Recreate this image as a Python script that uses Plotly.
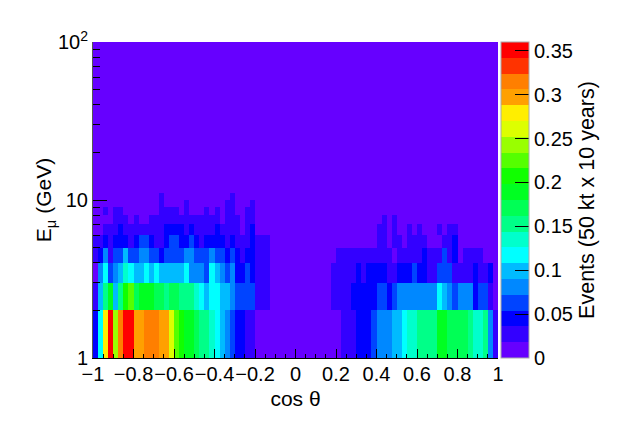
import plotly.graph_objects as go

# Bin edges
cos_theta_edges = [round(-1 + 0.025 * i, 3) for i in range(81)]
energy_edges = list(range(1, 101))

# Events per bin, one list per energy bin
events_1_2 = [.045,.117,.279,.351,.243,.315,.351,.351,.297,.297,.315,.315,.315,.297,.297,.261,.225,.207,.189,.189,
              .171,.153,.153,.135,.117,.099,.081,.063,.045,.045,.027,.027,0,0,0,0,0,0,0,0,
              0,0,0,0,0,0,0,0,0,.027,.027,.027,.045,.045,.045,.063,.081,.081,.081,.099,
              .099,.117,.135,.135,.153,.153,.153,.153,.189,.189,.171,.171,.171,.171,.153,.135,.135,.153,.081,.027]
events_2_3 = [.027,.099,.153,.189,.099,.153,.207,.225,.171,.189,.189,.189,.171,.171,.153,.171,.171,.153,.153,.153,
              .135,.117,.099,.117,.117,.099,.099,.081,.063,.063,.063,.063,.027,.027,.027,0,0,0,0,0,
              0,0,0,0,0,0,0,.027,.027,.027,.027,.045,.045,.045,.045,.045,.063,.063,.045,.063,
              .081,.081,.081,.081,.081,.081,.081,.081,.117,.099,.081,.063,.081,.081,.081,.045,.063,.063,.027,0]
events_3_4 = [0,.081,.117,.063,.081,.099,.135,.117,.099,.099,.117,.099,.117,.099,.099,.099,.099,.099,.117,.081,
              .081,.081,.063,.117,.099,.081,.063,.081,.045,.045,.063,.045,.027,.027,.027,0,0,0,0,0,
              0,0,0,0,0,0,0,.027,.027,.027,.027,.027,.045,.027,.045,.045,.045,.045,.027,.027,
              .045,.045,.045,.063,.045,.045,.027,.027,.063,.063,.063,.027,.027,.027,.027,.045,.027,.027,.045,0]
events_4_5 = [.027,.045,.081,.027,.063,.063,.099,.063,.063,.081,.081,.063,.063,.045,.063,.063,.063,.063,.081,.081,
              .063,.063,.063,.081,.063,.063,.045,.063,.045,.027,.045,.045,.027,.027,.027,0,0,0,0,0,
              0,0,0,0,0,0,0,0,.027,.027,.027,.027,.027,.027,.027,.027,.027,.027,.027,0,
              .027,.027,.027,.027,.027,.045,.027,.027,.027,.063,.027,.045,0,.027,.027,.027,.027,0,0,0]
events_5_6 = [.027,.027,.045,.027,.045,.045,.045,.027,.045,.063,.063,.045,.027,.027,.045,.063,.063,.045,.045,.063,
              .045,.027,.045,.045,.045,.045,.027,.045,.027,.027,.027,.045,.027,.027,.027,0,0,0,0,0,
              0,0,0,0,0,0,0,0,0,0,0,0,0,0,0,0,.027,.027,0,.027,
              .027,0,.027,.027,.027,.027,0,0,0,.027,.027,.045,0,0,0,0,0,0,0,0]
events_6_7 = [0,0,.027,.027,.027,.045,.027,.027,.027,.027,.027,.027,.027,.027,.045,.045,.045,.045,.027,.045,
              .027,.027,.027,.027,.045,.027,.027,.027,.027,0,.027,.045,0,0,0,0,0,0,0,0,
              0,0,0,0,0,0,0,0,0,0,0,0,0,0,0,0,.027,.027,0,.027,
              0,0,.027,0,.027,0,0,0,.027,0,.027,.027,0,0,0,0,0,0,0,0]
events_7_8 = [0,0,0,0,.027,.027,.027,0,.027,0,0,.027,.027,.027,.027,.027,.027,.027,.027,.027,
              .027,.027,.027,.027,.027,0,.027,.027,.027,0,.027,.027,0,0,0,0,0,0,0,0,
              0,0,0,0,0,0,0,0,0,0,0,0,0,0,0,0,0,.027,0,.027,
              0,0,0,0,0,0,0,0,0,0,0,0,0,0,0,0,0,0,0,0]
events_8_9 = [0,0,.027,0,.027,.027,0,0,0,0,0,0,0,.027,.027,.027,.027,0,.027,0,
              0,0,.027,0,.027,0,.027,.027,0,0,.027,.027,0,0,0,0,0,0,0,0,
              0,0,0,0,0,0,0,0,0,0,0,0,0,0,0,0,0,0,0,0,
              0,0,0,0,0,0,0,0,0,0,0,0,0,0,0,0,0,0,0,0]
events_9_10 = [0,0,0,0,0,0,0,0,0,0,0,0,0,.027,0,0,0,0,.027,0,
               0,0,0,0,0,0,.027,.027,0,0,0,.027,0,0,0,0,0,0,0,0,
               0,0,0,0,0,0,0,0,0,0,0,0,0,0,0,0,0,0,0,0,
               0,0,0,0,0,0,0,0,0,0,0,0,0,0,0,0,0,0,0,0]
events_10_11 = [0,0,0,0,0,0,0,0,0,0,0,0,0,.027,0,0,0,0,0,0,
                0,0,0,0,0,0,0,.027,0,0,0,0,0,0,0,0,0,0,0,0,
                0,0,0,0,0,0,0,0,0,0,0,0,0,0,0,0,0,0,0,0,
                0,0,0,0,0,0,0,0,0,0,0,0,0,0,0,0,0,0,0,0]
empty_row = [0] * 80

# Colour levels of the palette, lowest first
palette = ["#6600ff", "#3300ff", "#0000ff", "#0044ff", "#0088ff", "#00bbff", "#00ffff", "#00ffcc",
           "#00ff88", "#00ff55", "#00ff22", "#11ff00", "#55ff00", "#99ff00", "#ddff00", "#ffee00",
           "#ffa000", "#ff7f00", "#ff3300", "#ff0000"]
z_max = 0.36

x_tick_vals = [-1, -0.8, -0.6, -0.4, -0.2, 0, 0.2, 0.4, 0.6, 0.8, 1]
x_tick_text = ["\u22121", "\u22120.8", "\u22120.6", "\u22120.4", "\u22120.2", "0", "0.2", "0.4", "0.6", "0.8", "1"]
x_minor_vals = [round(-1 + 0.05 * i, 2) for i in range(41)]
y_tick_vals = [1, 10, 100]
y_tick_text = ["1", "10", "10<sup>2</sup>"]
y_minor_vals = [2, 3, 4, 5, 6, 7, 8, 9, 20, 30, 40, 50, 60, 70, 80, 90]
cbar_tick_vals = [0, 0.05, 0.1, 0.15, 0.2, 0.25, 0.3, 0.35]
cbar_tick_text = ["0", "0.05", "0.1", "0.15", "0.2", "0.25", "0.3", "0.35"]

rows = [events_1_2, events_2_3, events_3_4, events_4_5, events_5_6, events_6_7,
        events_7_8, events_8_9, events_9_10, events_10_11]
z = rows + [empty_row] * (len(energy_edges) - 1 - len(rows))

n = len(palette)
colorscale = []
for k, c in enumerate(palette):
    colorscale.append([k / n, c])
    colorscale.append([(k + 1) / n, c])

FONT = "Liberation Sans"
fig = go.Figure(go.Heatmap(
    x=cos_theta_edges, y=energy_edges, z=z, zmin=0, zmax=z_max,
    colorscale=colorscale, xgap=0, ygap=0, hoverongaps=False,
    colorbar=dict(
        x=1.0074, xanchor="left", xpad=0, y=0.5, yanchor="middle", ypad=0,
        len=1, lenmode="fraction", thickness=28, thicknessmode="pixels",
        ticks="inside", ticklen=14, tickwidth=1, tickcolor="black",
        tickvals=cbar_tick_vals, ticktext=cbar_tick_text,
        tickfont=dict(family=FONT, size=20, color="black"),
        outlinewidth=1, outlinecolor="#aaaaaa",
        title=dict(text="Events (50 kt x 10 years)", side="right",
                   font=dict(family=FONT, size=21.5, color="black")),
    ),
))

fig.update_layout(
    width=623, height=423, paper_bgcolor="white", plot_bgcolor="white",
    margin=dict(l=93, r=125, t=42, b=65, pad=0),
    font=dict(family=FONT, size=20, color="black"),
    xaxis=dict(
        range=[-1, 1], showgrid=False, zeroline=False, showline=True, linecolor="black", linewidth=1,
        tickmode="array", tickvals=x_tick_vals, ticktext=x_tick_text,
        ticks="inside", ticklen=9, tickwidth=1, tickcolor="black",
        tickfont=dict(family=FONT, size=20), tickangle=0, ticklabelstandoff=-2,
        minor=dict(tickmode="array", tickvals=x_minor_vals, ticks="inside", ticklen=4, tickwidth=1, tickcolor="black", showgrid=False),
        title=dict(text="cos \u03b8", font=dict(family=FONT, size=21), standoff=7),
    ),
    yaxis=dict(
        type="log", range=[0, 2], showgrid=False, zeroline=False, showline=True, linecolor="#555555", linewidth=1,
        tickmode="array", tickvals=y_tick_vals, ticktext=y_tick_text,
        ticks="inside", ticklen=14, tickwidth=1, tickcolor="black",
        tickfont=dict(family=FONT, size=20),
        minor=dict(tickmode="array", tickvals=y_minor_vals, ticks="inside", ticklen=7, tickwidth=1, tickcolor="black", showgrid=False),
        title=dict(text="E<sub>\u03bc</sub> (GeV)", font=dict(family=FONT, size=21), standoff=0),
    ),
)

fig.write_html("out.html", post_script="document.body.style.margin='0';", config={"displayModeBar": False})
